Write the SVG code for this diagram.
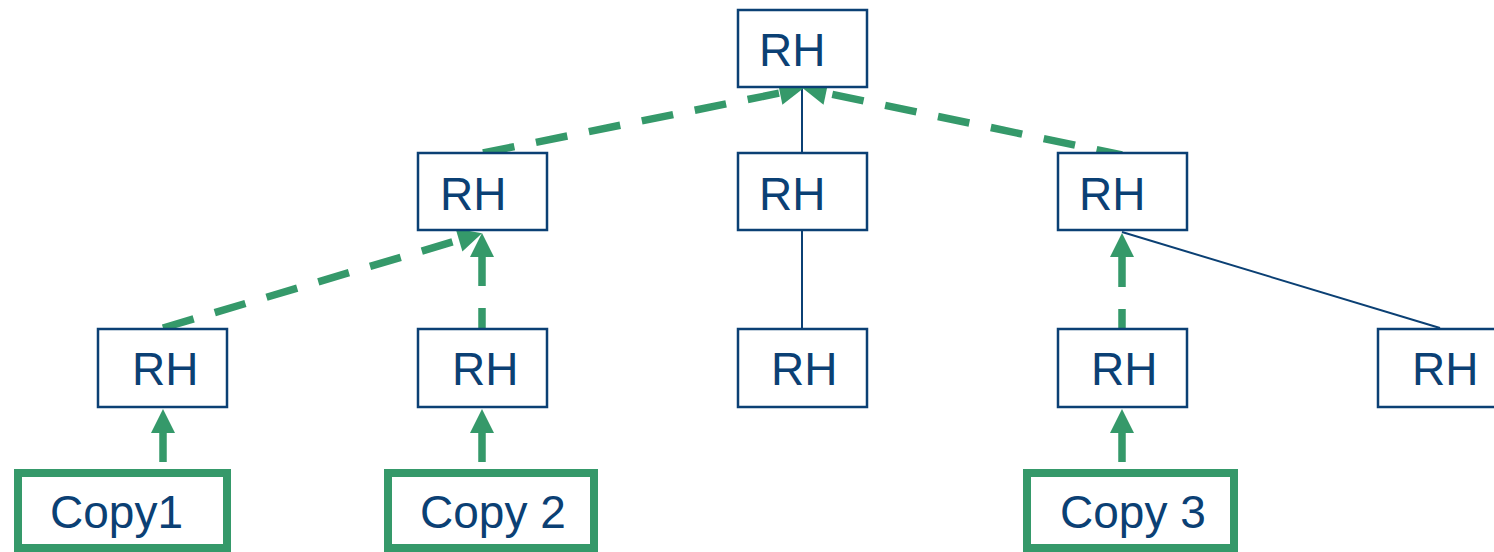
<svg xmlns="http://www.w3.org/2000/svg" width="1494" height="552" viewBox="0 0 1494 552">
<style>
.box{fill:#fff;stroke:#0b4074;stroke-width:2.5}
.copy{fill:#fff;stroke:#35996a;stroke-width:8}
.t{font-family:"Liberation Sans",Arial,sans-serif;font-size:46px;fill:#0b4074}
.solid{stroke:#0b4074;stroke-width:2;fill:none}
.g{stroke:#35996a;stroke-width:7.5;fill:none}
.dash{stroke-dasharray:32 22}
</style>
<defs>
<marker id="ah" markerUnits="userSpaceOnUse" markerWidth="26" markerHeight="24" refX="0" refY="12" orient="auto" viewBox="0 0 26 24" overflow="visible">
<path d="M0,0 L24,12 L0,24 Z" fill="#35996a"/>
</marker>
</defs>
<g id="connectors">
<line class="solid" x1="802" y1="87" x2="802" y2="153"/>
<line class="solid" x1="802" y1="230" x2="802" y2="329"/>
<line class="solid" x1="1122" y1="232" x2="1440" y2="328"/>
<line class="g dash" x1="163" y1="328" x2="459" y2="240" marker-end="url(#ah)"/>
<line class="g dash" x1="482" y1="328" x2="482" y2="257" stroke-dashoffset="12" marker-end="url(#ah)"/>
<line class="g dash" x1="483" y1="153" x2="780" y2="93" marker-end="url(#ah)"/>
<line class="g dash" x1="1122" y1="155" x2="826" y2="93" stroke-dashoffset="6" marker-end="url(#ah)"/>
<line class="g dash" x1="1122" y1="329" x2="1122" y2="257" stroke-dashoffset="12" marker-end="url(#ah)"/>
<line class="g" x1="163" y1="462" x2="163" y2="433" marker-end="url(#ah)"/>
<line class="g" x1="482" y1="462" x2="482" y2="433" marker-end="url(#ah)"/>
<line class="g" x1="1122" y1="462" x2="1122" y2="433" marker-end="url(#ah)"/>
</g>
<g id="n-top"><rect class="box" x="738" y="10" width="129" height="77"/><text class="t" x="759" y="66">RH</text></g>
<g id="n-l2a"><rect class="box" x="418" y="153" width="129" height="77"/><text class="t" x="440" y="210">RH</text></g>
<g id="n-l2b"><rect class="box" x="738" y="153" width="129" height="77"/><text class="t" x="759" y="210">RH</text></g>
<g id="n-l2c"><rect class="box" x="1058" y="153" width="129" height="77"/><text class="t" x="1079" y="210">RH</text></g>
<g id="n-l3a"><rect class="box" x="98" y="329" width="129" height="78"/><text class="t" x="132" y="385">RH</text></g>
<g id="n-l3b"><rect class="box" x="418" y="329" width="129" height="78"/><text class="t" x="452" y="385">RH</text></g>
<g id="n-l3c"><rect class="box" x="738" y="329" width="129" height="78"/><text class="t" x="771" y="385">RH</text></g>
<g id="n-l3d"><rect class="box" x="1058" y="329" width="129" height="78"/><text class="t" x="1091" y="385">RH</text></g>
<g id="n-l3e"><rect class="box" x="1378" y="329" width="129" height="78"/><text class="t" x="1412" y="385">RH</text></g>
<g id="n-copy1"><rect class="copy" x="18" y="473" width="209" height="75"/><text class="t" x="50" y="528">Copy1</text></g>
<g id="n-copy2"><rect class="copy" x="388" y="473" width="206" height="75"/><text class="t" x="420" y="528">Copy 2</text></g>
<g id="n-copy3"><rect class="copy" x="1027" y="473" width="207" height="75"/><text class="t" x="1060" y="528">Copy 3</text></g>
</svg>
